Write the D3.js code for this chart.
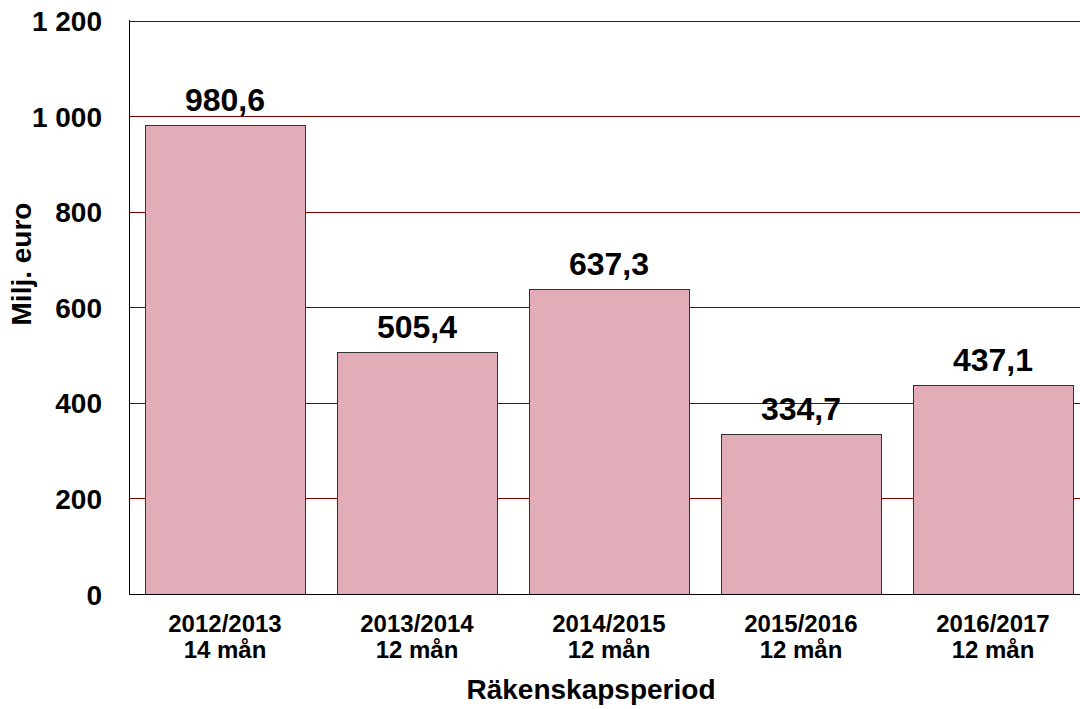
<!DOCTYPE html>
<html><head><meta charset="utf-8">
<script src="https://cdn.jsdelivr.net/npm/d3@7"></script>
<style>body{margin:0;background:#fff}svg{display:block}text{font-family:"Liberation Sans",Arial,sans-serif;font-weight:bold;fill:#000}</style>
</head><body>
<script>
const periods = ["2012/2013", "2013/2014", "2014/2015", "2015/2016", "2016/2017"];
const lengths = ["14 mån", "12 mån", "12 mån", "12 mån", "12 mån"];
const values = [980.6, 505.4, 637.3, 334.7, 437.1];
const valueLabels = ["980,6", "505,4", "637,3", "334,7", "437,1"];
const yTicks = [0, 200, 400, 600, 800, 1000, 1200];
const yTickLabels = ["0", "200", "400", "600", "800", "1 000", "1 200"];
const yTitle = "Milj. euro";
const xTitle = "Räkenskapsperiod";

const W = 1080, H = 709;
const svg = d3.select("body").append("svg").attr("width", W).attr("height", H);
const y = d3.scaleLinear().domain([0, 1200]).range([594, 20.5]);
const x = d3.scaleBand().domain(periods).range([129, 1089]).paddingInner(1/6).paddingOuter(1/12);

// gridlines
svg.append("g").selectAll("line").data(yTicks.filter(d => d > 0)).join("line")
  .attr("x1", 129.5).attr("x2", W + 20)
  .attr("y1", d => Math.round(y(d)) + 0.5).attr("y2", d => Math.round(y(d)) + 0.5)
  .attr("stroke", "#800000").attr("stroke-width", 1);

// bars
svg.append("g").selectAll("rect").data(values).join("rect")
  .attr("x", (d, i) => Math.round(x(periods[i])) + 0.5)
  .attr("y", d => Math.round(y(d)) + 0.5)
  .attr("width", x.bandwidth())
  .attr("height", d => Math.round(y(0)) - Math.round(y(d)))
  .attr("fill", "#e0adb9").attr("stroke", "#333").attr("stroke-width", 1);

// value labels
svg.append("g").selectAll("text").data(values).join("text")
  .attr("x", (d, i) => x(periods[i]) + x.bandwidth() / 2)
  .attr("y", d => y(d) - 14)
  .attr("text-anchor", "middle").attr("font-size", 32)
  .text((d, i) => valueLabels[i]);

// axes lines
svg.append("line").attr("x1", 129.5).attr("x2", 129.5).attr("y1", 20).attr("y2", Math.round(y(0)) + 0.5).attr("stroke", "#000");
svg.append("line").attr("x1", 129).attr("x2", W + 20).attr("y1", Math.round(y(0)) + 0.5).attr("y2", Math.round(y(0)) + 0.5).attr("stroke", "#000");

// y tick labels
const yAxis = d3.axisLeft(y).tickValues(yTicks).tickFormat((d, i) => yTickLabels[i]).tickSize(0).tickPadding(0);
const ga = svg.append("g").attr("transform", "translate(102,0)").call(yAxis);
ga.select(".domain").remove();
ga.selectAll("text").attr("font-size", 28).attr("dy", "0.36em").attr("fill", "#000");
ga.attr("font-family", null).attr("font-size", null);

// x tick labels
const xl = svg.append("g").selectAll("text").data(periods).join("text")
  .attr("text-anchor", "middle").attr("font-size", 24);
xl.append("tspan").attr("x", d => x(d) + x.bandwidth() / 2).attr("y", 632).text(d => d);
xl.append("tspan").attr("x", d => x(d) + x.bandwidth() / 2).attr("y", 658).text((d, i) => lengths[i]);

// titles
svg.append("text").attr("x", 591).attr("y", 699).attr("text-anchor", "middle").attr("font-size", 28).text(xTitle);
svg.append("text").attr("transform", "translate(31,264) rotate(-90)").attr("text-anchor", "middle").attr("font-size", 28).text(yTitle);
</script>
</body></html>
